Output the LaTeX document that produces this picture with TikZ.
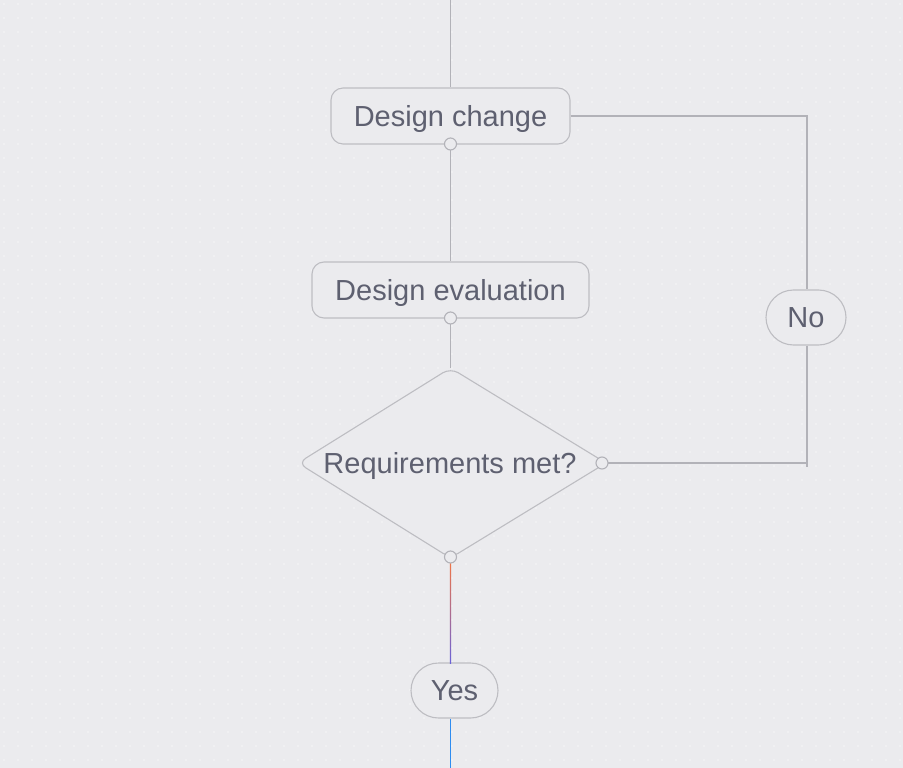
\documentclass[tikz,border=0pt]{standalone}
\usepackage{fontspec}
\setmainfont{Liberation Sans}
\usetikzlibrary{shapes.geometric,shapes.misc}
\definecolor{bg}{HTML}{EBEBEE}
\definecolor{dotc}{HTML}{F6F6F8}
\definecolor{edge}{HTML}{BDBDC2}
\definecolor{wire}{HTML}{B2B2B8}
\definecolor{txt}{HTML}{5E6070}
\definecolor{orangeA}{HTML}{EE7548}
\definecolor{purpleA}{HTML}{6A62D8}
\definecolor{blueA}{HTML}{2E8CF0}
\tikzset{
  lbl/.style={text=txt, font=\fontsize{29}{32}\selectfont, text height=20.8pt, text depth=0pt},
  box/.style={lbl, draw=edge, line width=1.1pt, fill=bg, rounded corners=12pt,
    inner sep=0pt, minimum height=56pt},
  pill/.style={lbl, draw=edge, line width=1.1pt, fill=bg, rounded rectangle,
    inner sep=0pt, minimum height=55pt},
  wireline/.style={draw=wire, line width=1.1pt},
  port/.style={circle, draw=wire, fill=bg, line width=1.1pt, minimum size=12pt, inner sep=0pt},
}
\begin{document}
\begin{tikzpicture}[x=1pt,y=-1pt]
\useasboundingbox (0,0) rectangle (903,768);
\fill[bg] (0,0) rectangle (903,768);
\foreach \i in {0,...,64} {
  \foreach \j in {0,...,55} {
    \fill[dotc] (\i*14+4, \j*14+4) circle (0.9pt);
  }
}
% nodes
\node[box, minimum width=239pt] (dc) at (450.5,116) {Design change};
\node[box, minimum width=277pt] (de) at (450.5,290) {Design evaluation};
\draw[draw=edge, line width=1.1pt, fill=bg, rounded corners=9pt]
  (450.5,368) -- (606,463) -- (450.5,558) -- (298,463) -- cycle;
\node[lbl, inner sep=0pt] (rq) at (450,463) {Requirements met?};
\coordinate (rqtop) at (450.5,368);
\coordinate (rqbot) at (450.5,557);
\coordinate (rqright) at (602,463);
\node[pill, minimum width=87pt] (yes) at (454.5,690.5) {Yes};
\node[pill, minimum width=80pt] (no) at (806,317.5) {No};
\coordinate (top) at (450.5,0);
\coordinate (bot) at (450.5,768);
\coordinate (c1) at (807,116);
\coordinate (c2) at (807,463);
\coordinate (c3) at (807,467);
% connectors
\draw[wireline] (top) -- (dc.north -| top);
\draw[wireline] (dc.south -| top) -- (de.north -| top);
\draw[wireline] (de.south -| top) -- (rqtop);
\draw[wireline] (dc.east) -- (c1) -- (no.north -| c1);
\draw[wireline] (no.south -| c1) -- (c3);
\draw[wireline] (rqright) -- (c2);
\shade[top color=orangeA, bottom color=purpleA] (449.8,563) rectangle (451.2,663);
\draw[blueA, line width=1.3pt] (yes.south -| top) -- (bot);
% ports
\node[port] (p1) at (450.5,144) {};
\node[port] (p2) at (450.5,318) {};
\node[port] (p3) at (rqbot) {};
\node[port] (p4) at (rqright) {};
\end{tikzpicture}
\end{document}
